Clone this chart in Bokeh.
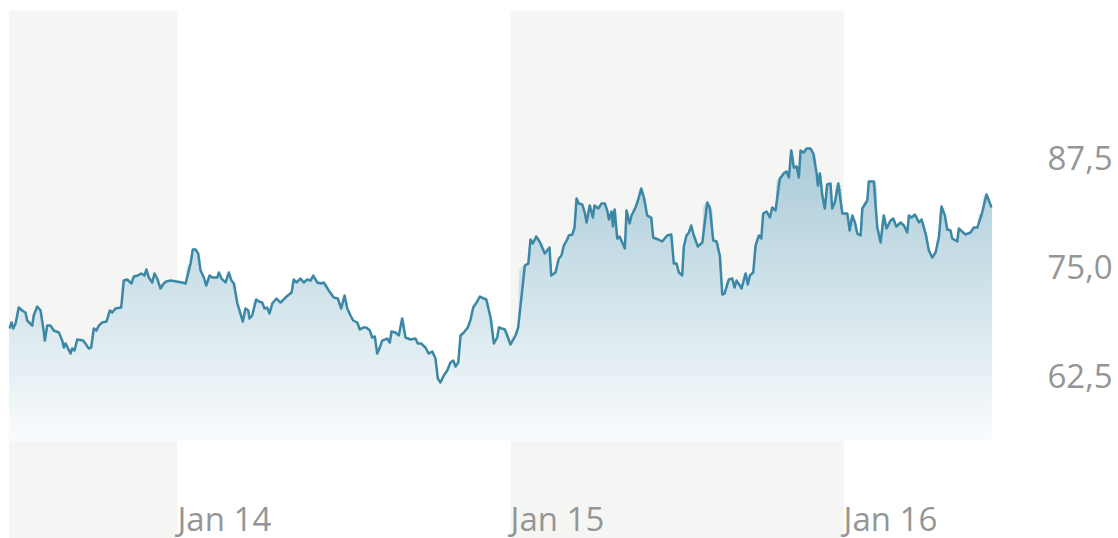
import numpy as np
import pandas as pd
from bokeh.plotting import figure
from bokeh.models import Range1d, LinearAxis, FixedTicker, BoxAnnotation, Label, CustomJSTickFormatter
from bokeh.embed import file_html
from bokeh.resources import INLINE

# ---------------- data ----------------
origin = pd.Timestamp("2025-01-14 00:00")

# hours since Jan 14 00:00, and price
jan13_hours = [-12.11, -11.96, -11.84, -11.67, -11.44, -11.19, -10.96, -10.83, -10.47, -10.36,
               -10.11, -9.87, -9.68, -9.56, -9.39, -9.15, -8.92, -8.55, -8.31, -8.19,
               -8.07, -7.71, -7.59, -7.42, -7.23, -6.80, -6.39, -6.22, -6.03, -5.84,
               -5.67, -5.43, -5.12, -4.88, -4.71, -4.47, -4.06, -3.87, -3.63, -3.32,
               -3.15, -2.86, -2.62, -2.38, -2.24, -2.07, -1.82, -1.66, -1.46, -1.23,
               -0.99, -0.81, -0.50]
jan13_vals = [67.89, 68.58, 67.89, 68.46, 70.30, 69.95, 69.72, 68.81, 68.23, 69.38,
              70.41, 69.95, 68.00, 66.51, 68.23, 68.23, 67.66, 67.43, 66.51, 65.71,
              66.17, 65.02, 65.60, 65.37, 66.63, 66.51, 65.60, 65.71, 67.89, 67.66,
              68.23, 68.58, 68.69, 69.95, 69.72, 70.18, 70.30, 73.39, 73.51, 73.05,
              73.85, 73.97, 74.20, 73.97, 74.66, 73.74, 73.17, 74.20, 73.62, 72.48,
              73.05, 73.28, 73.39]

jan14_hours = [0.34, 0.58, 0.94, 1.10, 1.30, 1.49, 1.66, 1.90, 2.07, 2.31,
               2.50, 2.86, 2.98, 3.17, 3.46, 3.70, 3.89, 4.06, 4.30, 4.47,
               4.71, 4.90, 5.10, 5.19, 5.38, 5.67, 5.86, 6.10, 6.27, 6.46,
               6.63, 6.83, 7.13, 7.42, 7.78, 8.22, 8.38, 8.58, 8.86, 9.10,
               9.35, 9.59, 9.78, 10.07, 10.31, 10.54, 10.90, 11.26,
               11.55, 11.80, 12.04, 12.23, 12.47, 12.66, 12.95, 13.14, 13.38, 13.62,
               13.86, 14.03, 14.22, 14.39, 14.58, 14.75, 15.11, 15.30, 15.42, 15.71,
               15.95, 16.19, 16.43, 16.79, 17.15, 17.32, 17.56, 17.87, 18.11, 18.36,
               18.59, 18.76, 18.95, 19.19, 19.44, 19.67, 19.87, 20.04, 20.23, 20.40,
               20.63, 20.92, 21.12, 21.31, 21.55, 21.79, 22.08, 22.25, 22.56, 22.80,
               23.04, 23.16, 23.59]
jan14_vals = [73.17, 73.05, 75.34, 76.95, 76.95, 76.49, 74.54, 73.74, 72.82, 73.97,
              73.74, 73.74, 74.31, 73.62, 73.17, 74.31, 73.39, 73.05, 70.87, 69.95,
              68.69, 70.18, 69.95, 69.04, 69.38, 71.22, 70.99, 70.87, 70.18, 70.30,
              69.61, 70.76, 71.33, 70.87, 71.44, 72.02, 73.51, 73.17, 73.62, 73.17,
              73.51, 73.39, 73.97, 73.17, 73.05, 73.17, 72.25, 71.44,
              71.33, 70.18, 71.67, 70.18, 69.38, 68.81, 68.58, 67.78, 68.00, 68.00,
              67.66, 66.86, 66.97, 65.02, 65.71, 66.51, 66.74, 66.28, 67.55, 67.43,
              67.09, 69.04, 66.86, 66.63, 66.74, 66.17, 66.17, 65.71, 65.02, 65.25,
              64.45, 62.16, 61.70, 62.50, 63.07, 63.99, 64.22, 63.53, 63.99, 67.09,
              67.43, 68.00, 68.92, 70.30, 70.87, 71.56, 71.33, 71.22, 69.15, 66.17,
              66.86, 68.00, 67.78]

jan15_hours = [24.00, 24.36, 24.55, 25.03, 25.28, 25.44, 25.61, 25.85, 26.09, 26.47,
               26.81, 26.93, 27.24, 27.48, 27.67, 27.84, 28.09, 28.20, 28.45, 28.61,
               28.76, 28.92, 29.17, 29.35, 29.48, 29.71, 29.93, 30.05, 30.32, 30.56,
               30.80, 30.97, 31.09, 31.28, 31.38, 31.50, 31.69, 31.86, 32.05, 32.24,
               32.36, 32.58, 32.72, 33.01, 33.20, 33.42, 33.61, 33.85, 34.14, 34.28,
               34.64, 34.93, 35.17,
               35.29, 35.58, 35.77, 35.96, 36.13, 36.37, 36.49, 36.68, 36.85, 37.02,
               37.21, 37.50, 37.82, 38.18, 38.36, 38.61, 38.85, 39.08, 39.26, 39.42,
               39.73, 39.98, 40.14, 40.29, 40.65, 40.94, 41.10, 41.25, 41.49, 41.66,
               41.90, 42.07, 42.21, 42.45, 42.69, 42.86, 43.10, 43.41, 43.75, 43.89,
               44.06, 44.23, 44.42, 44.62, 44.78, 44.90, 45.14, 45.33, 45.62, 45.82,
               46.06, 46.15, 46.29, 46.47, 46.65, 46.82, 47.06, 47.18, 47.37, 47.62,
               47.91]
jan15_vals = [66.06, 67.09, 68.00, 75.11, 75.34, 78.10, 77.64, 78.44, 77.87, 76.49,
              77.18, 73.97, 74.31, 75.92, 76.26, 77.41, 78.10, 78.56, 78.67, 79.47,
              82.80, 82.22, 82.11, 81.19, 80.05, 82.00, 80.62, 82.00, 81.65, 82.22,
              82.22, 81.42, 80.39, 81.31, 79.59, 81.54, 78.21, 78.44, 77.75, 77.06,
              81.42, 79.93, 80.85, 81.77, 82.68, 83.94, 82.91, 80.85, 80.62, 78.33,
              78.10, 77.87, 78.33,
              78.56, 78.67, 75.34, 75.34, 74.31, 73.97, 77.29, 78.56, 78.90, 79.70,
              78.56, 77.29, 77.75, 82.34, 81.77, 77.98, 77.87, 76.26, 71.79, 71.90,
              73.51, 73.62, 72.59, 73.39, 72.48, 74.20, 72.94, 73.97, 74.31, 77.41,
              78.56, 78.21, 81.08, 81.31, 80.62, 81.77, 81.42, 85.09, 85.78, 85.89,
              85.21, 88.30, 86.35, 86.47, 85.21, 88.30, 88.07, 88.53, 88.53, 87.96,
              85.67, 84.29, 85.67, 83.14, 81.65, 84.40, 84.52, 81.65, 82.34, 84.52,
              81.08]

jan16_hours = [48.27, 48.44, 48.63, 48.82, 48.99, 49.23, 49.35, 49.71, 49.82, 50.18,
               50.43, 50.67, 50.90, 51.10, 51.39, 51.58, 51.80, 52.11, 52.35, 52.59,
               52.71, 52.90, 53.14, 53.43, 53.62, 53.91, 54.15, 54.39, 54.63, 54.87,
               55.06, 55.30, 55.47, 55.71, 55.83, 56.19, 56.31, 56.55, 56.79, 57.15,
               57.39, 57.64, 57.99, 58.30, 58.47, 58.66]
jan16_vals = [81.08, 79.13, 80.85, 80.05, 78.78, 78.56, 81.65, 82.57, 84.75, 84.75,
              79.47, 77.75, 80.85, 79.36, 80.28, 80.50, 79.59, 80.05, 79.70, 78.90,
              80.85, 80.62, 80.96, 80.05, 80.39, 78.78, 76.83, 76.03, 76.61, 78.33,
              81.88, 80.85, 79.24, 79.13, 78.21, 77.87, 79.36, 79.01, 78.67, 78.90,
              79.47, 79.47, 81.19, 83.26, 82.57, 81.77]

day_labels = ["Jan 14", "Jan 15", "Jan 16"]
day_starts = ["2025-01-14", "2025-01-15", "2025-01-16"]
y_ticks = [62.5, 75.0, 87.5]

# ---------------- build ----------------
hours = np.array(jan13_hours + jan14_hours + jan15_hours + jan16_hours)
vals = np.array(jan13_vals + jan14_vals + jan15_vals + jan16_vals)
t = (origin + pd.to_timedelta(hours, unit="h"))


def ms(ts):
    return pd.Timestamp(ts).value / 1e6


x_start = ms(origin + pd.Timedelta(hours=-12.18))
x_end = ms(origin + pd.Timedelta(hours=59.31))
y_min, y_max = 43.81, 104.36

LINE = "#3b87a6"
LINE_RGB = np.array([59, 135, 166])
BAND = "#f5f5f3"
TEXT = "#959595"

p = figure(width=1118, height=538, x_axis_type="datetime",
           x_range=Range1d(x_start, x_end), y_range=Range1d(y_min, y_max),
           output_backend="svg", toolbar_location=None,
           x_axis_location=None, y_axis_location=None,
           min_border_left=8, min_border_top=10, min_border_bottom=0, min_border_right=118)
p.grid.visible = False
p.outline_line_color = None
p.background_fill_color = "white"
p.border_fill_color = "white"

# alternating day bands
p.add_layout(BoxAnnotation(left=x_start, right=ms(day_starts[0]), fill_color=BAND, fill_alpha=1,
                           line_color=None, level="underlay"))
p.add_layout(BoxAnnotation(left=ms(day_starts[1]), right=ms(day_starts[2]), fill_color=BAND, fill_alpha=1,
                           line_color=None, level="underlay"))

# vertical gradient under the line: opaque layers painted bottom-up
base, top = 55.0, 88.6
A0, A1 = 0.03, 0.44
N = 90
levels = np.linspace(base, top, N + 1)[:-1]
for i, lo in enumerate(levels):
    a = A0 + (A1 - A0) * (lo - base) / (top - base)
    rgb = np.round(255 * (1 - a) + LINE_RGB * a).astype(int)
    col = "#%02x%02x%02x" % tuple(rgb)
    p.varea(x=t, y1=lo, y2=np.maximum(vals, lo), fill_color=col, fill_alpha=0.93 if i == 0 else 1.0)

p.line(t, vals, line_color=LINE, line_width=2.5, line_join="round")

# right value axis
ax = LinearAxis(ticker=FixedTicker(ticks=y_ticks),
                formatter=CustomJSTickFormatter(code="return tick.toFixed(1).replace('.', ',');"),
                axis_line_color=None, major_tick_line_color=None, minor_tick_line_color=None,
                major_tick_out=0, major_tick_in=0, minor_tick_out=0, minor_tick_in=0,
                major_label_standoff=47, major_label_text_font="Open Sans",
                major_label_text_font_size="33px", major_label_text_color=TEXT)
p.add_layout(ax, "right")

# day labels inside plot
for lab, d in zip(day_labels, day_starts):
    p.add_layout(Label(x=ms(d), y=20, x_units="data", y_units="screen", text=lab,
                       text_align="left", text_baseline="alphabetic",
                       text_font="Open Sans", text_font_size="33px", text_color=TEXT))

open("out.html", "w").write(file_html(p, INLINE))
